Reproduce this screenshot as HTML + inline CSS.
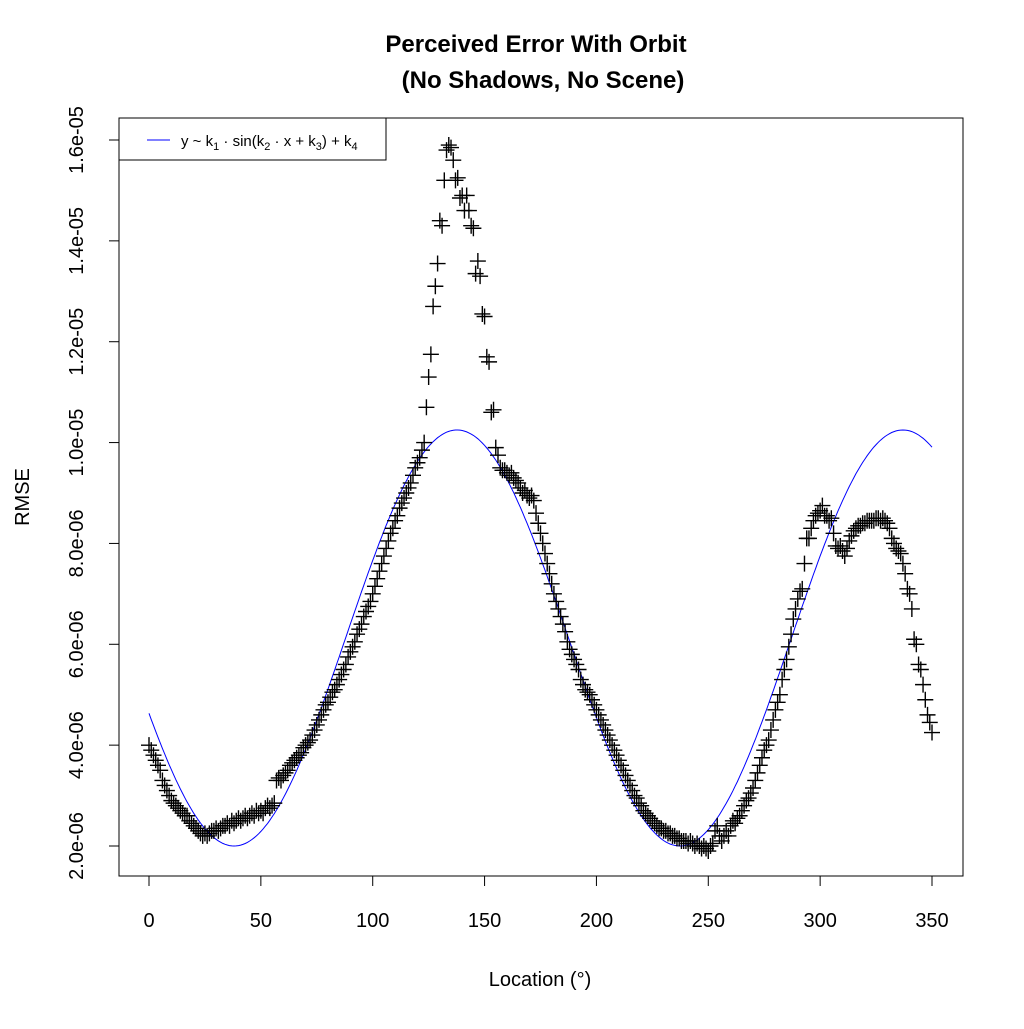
<!DOCTYPE html>
<html><head><meta charset="utf-8"><style>
html,body{margin:0;padding:0;background:#fff;}
svg text{font-family:"Liberation Sans",Arial,sans-serif;}
</style></head><body>
<svg id="chart" width="1024" height="1024" xmlns="http://www.w3.org/2000/svg">
<rect width="1024" height="1024" fill="#fff"/>
<text x="536" y="52" text-anchor="middle" font-size="24" font-weight="bold">Perceived Error With Orbit</text>
<text x="543" y="88" text-anchor="middle" font-size="24" font-weight="bold">(No Shadows, No Scene)</text>
<rect x="119" y="118" width="844" height="758" fill="none" stroke="#000" stroke-width="1"/>
<g id="xaxis"></g>
<g id="yaxis"></g>
<text x="540" y="986" text-anchor="middle" font-size="20">Location (°)</text>
<text transform="translate(29,497) rotate(-90)" text-anchor="middle" font-size="20">RMSE</text>
<g id="curve"></g>
<g id="pts"></g>
<g>
<rect x="119" y="118" width="267" height="42" fill="#fff" stroke="#000" stroke-width="1"/>
<line x1="147" y1="140" x2="170" y2="140" stroke="#0000ff" stroke-width="1"/>
<text x="181" y="146" font-size="15">y ~ k<tspan font-size="11" dy="4">1</tspan><tspan dy="-4"> · sin(k</tspan><tspan font-size="11" dy="4">2</tspan><tspan dy="-4"> · x + k</tspan><tspan font-size="11" dy="4">3</tspan><tspan dy="-4">) + k</tspan><tspan font-size="11" dy="4">4</tspan></text>
</g>
</svg>
<script>
const xTicks=[0,50,100,150,200,250,300,350];
const yTicks=[2,4,6,8,10,12,14,16];
const yTickLabels=["2.0e-06","4.0e-06","6.0e-06","8.0e-06","1.0e-05","1.2e-05","1.4e-05","1.6e-05"];
const fitParams=[4.125,0.03153,-2.771,6.125];
const locationStep=[1.0];
const rmse=[4.0,3.9,3.8,3.7,3.6,3.5,3.3,3.2,3.1,3.0,2.9,2.85,2.8,2.75,2.7,2.65,2.6,2.6,2.5,2.45,2.4,2.35,2.3,2.25,2.2,2.25,2.2,2.25,2.3,2.3,2.35,2.3,2.35,2.4,2.4,2.45,2.4,2.5,2.45,2.5,2.55,2.5,2.55,2.6,2.55,2.6,2.65,2.6,2.7,2.65,2.7,2.65,2.75,2.8,2.75,2.8,2.85,3.3,3.35,3.3,3.4,3.45,3.5,3.6,3.65,3.7,3.75,3.8,3.85,3.95,4.0,4.05,4.1,4.2,4.3,4.4,4.5,4.6,4.7,4.8,4.85,4.95,5.05,5.1,5.2,5.3,5.4,5.5,5.6,5.75,5.85,5.95,6.05,6.2,6.3,6.4,6.55,6.65,6.75,6.85,7.0,7.15,7.3,7.45,7.6,7.75,7.9,8.05,8.2,8.3,8.45,8.55,8.7,8.8,8.9,9.0,9.1,9.2,9.35,9.5,9.6,9.7,9.85,10.0,10.7,11.3,11.75,12.7,13.1,13.55,14.4,14.3,15.2,15.8,15.9,15.85,15.6,15.2,15.25,14.85,14.9,14.6,14.9,14.6,14.3,14.25,13.35,13.6,13.3,12.55,12.5,11.7,11.6,10.6,10.65,9.9,9.75,9.5,9.45,9.45,9.4,9.35,9.4,9.3,9.25,9.2,9.1,9.0,9.05,8.95,8.9,8.95,8.85,8.6,8.4,8.2,8.0,7.8,7.6,7.4,7.2,7.0,6.85,6.7,6.55,6.4,6.25,6.05,5.9,5.8,5.7,5.6,5.5,5.3,5.2,5.1,5.05,5.0,4.9,4.8,4.7,4.6,4.5,4.4,4.3,4.2,4.1,4.0,3.9,3.8,3.7,3.6,3.5,3.4,3.3,3.2,3.1,3.0,2.95,2.85,2.8,2.7,2.65,2.6,2.55,2.5,2.45,2.4,2.35,2.35,2.3,2.3,2.25,2.25,2.2,2.2,2.15,2.15,2.1,2.1,2.1,2.05,2.1,2.05,2.0,2.05,2.0,1.95,2.0,1.95,1.9,2.0,2.05,2.3,2.4,2.2,2.1,2.2,2.3,2.2,2.4,2.5,2.45,2.55,2.6,2.7,2.8,2.9,2.95,3.05,3.15,3.3,3.45,3.6,3.75,3.9,4.0,4.1,4.3,4.5,4.7,4.85,5.0,5.3,5.5,5.7,5.95,6.2,6.5,6.7,6.9,7.05,7.1,7.6,8.1,8.1,8.3,8.45,8.55,8.6,8.65,8.75,8.55,8.55,8.45,8.5,8.2,7.95,7.9,7.95,7.85,7.75,7.9,8.05,8.15,8.25,8.3,8.35,8.35,8.4,8.4,8.45,8.45,8.45,8.45,8.5,8.5,8.45,8.5,8.45,8.4,8.3,8.1,8.0,7.9,7.85,7.8,7.6,7.4,7.1,7.0,6.7,6.1,6.0,5.6,5.5,5.2,4.9,4.6,4.45,4.25];
const NS="http://www.w3.org/2000/svg";
const X=v=>149+v*(932-149)/350;
const Y=v=>846-(v-2)*(846-140)/14;
function mk(tag,attrs,parent){const e=document.createElementNS(NS,tag);for(const k in attrs)e.setAttribute(k,attrs[k]);parent.appendChild(e);return e;}
const xa=document.getElementById('xaxis');
mk('line',{x1:X(0),y1:876,x2:X(350),y2:876,stroke:'#000'},xa);
xTicks.forEach(t=>{
 const l=mk('line',{x1:X(t),y1:876,x2:X(t),y2:886,stroke:'#000'},xa);
 
 
 const tx=mk('text',{x:X(t),y:927,'text-anchor':'middle','font-size':20},xa);
 
 
 tx.textContent=t;
});
const ya=document.getElementById('yaxis');
mk('line',{x1:119,y1:Y(2),x2:119,y2:Y(16),stroke:'#000'},ya);
yTicks.forEach((t,i)=>{
 const l=mk('line',{x1:109,y1:Y(t),x2:119,y2:Y(t),stroke:'#000'},ya);
 
 
 const tx=mk('text',{transform:`translate(83,${Y(t)}) rotate(-90)`,'text-anchor':'middle','font-size':20},ya);
 
 
 tx.textContent=yTickLabels[i];
});
const cg=document.getElementById('curve');
let d='';
for(let x=0;x<=350;x+=1){const v=fitParams[0]*Math.sin(fitParams[1]*x+fitParams[2])+fitParams[3];d+=(x?'L':'M')+X(x).toFixed(1)+','+Y(v).toFixed(1);}
const p=mk('path',{d:d,fill:'none',stroke:'#0000ff','stroke-width':1},cg);


const pg=document.getElementById('pts');
rmse.forEach((v,i)=>{
 const cx=X(i*locationStep[0]),cy=Y(v);
 const e=mk('path',{d:`M${cx-8},${cy}H${cx+8}M${cx},${cy-8}V${cy+8}`,stroke:'#000','stroke-width':1.4,fill:'none'},pg);
 
 
});
</script>
</body></html>
